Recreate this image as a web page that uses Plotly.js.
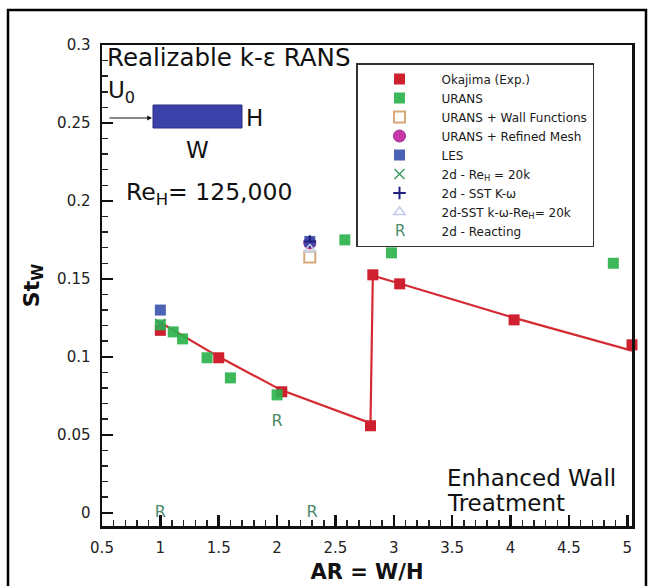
<!DOCTYPE html>
<html>
<head>
<meta charset="utf-8">
<script src="https://cdn.plot.ly/plotly-3.0.1.min.js"></script>
<style>html,body{margin:0;padding:0;background:#fff;}#chart{width:654px;height:586px;}</style>
</head>
<body>
<div id="chart"></div>
<script>
// ---- data ----
const okajimaX = [1.0, 1.5, 2.04, 2.8, 2.82, 3.05, 4.03, 5.04];
const okajimaY = [0.117, 0.0994, 0.0776, 0.0558, 0.1526, 0.1468, 0.1237, 0.1077];
const fitX = [1.0, 1.5, 2.04, 2.8, 2.82, 3.05, 4.03, 5.04];
const fitY = [0.122, 0.1, 0.0785, 0.0575, 0.152, 0.147, 0.125, 0.104];
const uransX = [1.0, 1.11, 1.19, 1.4, 1.6, 2.0, 2.58, 2.98, 4.88];
const uransY = [0.1205, 0.116, 0.1115, 0.0994, 0.0865, 0.0756, 0.175, 0.1667, 0.160];
const wallFnX = [2.28];
const wallFnY = [0.164];
const refinedX = [2.28];
const refinedY = [0.173];
const lesX = [1.0, 2.28];
const lesY = [0.130, 0.174];
const re20kX = [1.0];
const re20kY = [0.121];
const sstX = [2.28];
const sstY = [0.174];
const sstRe20kX = [2.28];
const sstRe20kY = [0.169];
const reactX = [1.0, 2.0, 2.3];
const reactY = [0.0, 0.058, 0.0];
const reactText = ['R', 'R', 'R'];

// plot-area pixel geometry helpers (layout only)
const L = 102, R = 632, T = 45, B = 526;
const px = x => (x - L) / (R - L);
const py = y => (B - y) / (B - T);

const FONT = 'DejaVu Sans, Liberation Sans, Arial, sans-serif';

const traces = [
  {x: fitX, y: fitY, mode: 'lines', line: {color: '#d42a32', width: 2.2}, showlegend: false, hoverinfo: 'skip', cliponaxis: false},
  {x: okajimaX, y: okajimaY, mode: 'markers', name: 'Okajima (Exp.)', cliponaxis: false,
   marker: {symbol: 'square', size: 11, color: '#cf2030'}},
  {x: uransX, y: uransY, mode: 'markers', name: 'URANS', cliponaxis: false,
   marker: {symbol: 'square', size: 11, color: '#2cb24c', opacity: 0.92}},
  {x: wallFnX, y: wallFnY, mode: 'markers', name: 'URANS + Wall Functions',
   marker: {symbol: 'square-open', size: 11, color: '#d8a878', line: {width: 2}}},
  {x: refinedX, y: refinedY, mode: 'markers', name: 'URANS + Refined Mesh',
   marker: {symbol: 'circle', size: 12, color: '#c838a8', line: {color: '#a02890', width: 1}}},
  {x: lesX, y: lesY, mode: 'markers', name: 'LES',
   marker: {symbol: 'square', size: 11, color: '#2c48a8', opacity: 0.85}},
  {x: re20kX, y: re20kY, mode: 'markers', name: '2d - Re<sub>H</sub> = 20k',
   marker: {symbol: 'x-thin-open', size: 10, color: '#3a9a62', line: {width: 1.5}}},
  {x: sstX, y: sstY, mode: 'markers', name: '2d - SST K-ω',
   marker: {symbol: 'cross-thin-open', size: 9, color: '#202080', line: {width: 2}}},
  {x: sstRe20kX, y: sstRe20kY, mode: 'markers', name: '2d-SST k-ω-Re<sub>H</sub>= 20k',
   marker: {symbol: 'triangle-up-open', size: 10, color: '#c0cce8', line: {width: 1.5}}},
  {x: reactX, y: reactY, mode: 'text', name: '2d - Reacting', text: reactText, showlegend: false, cliponaxis: false,
   textfont: {family: FONT, size: 16, color: '#4a8a68'}, textposition: 'middle center'},
  // legend entry for the text-marker series (its glyph is drawn as an "R" annotation below)
  {x: [null], y: [null], mode: 'markers', name: '2d - Reacting',
   marker: {symbol: 'square', size: 10, color: 'rgba(0,0,0,0)'}}
];

const legendFontSize = 12;

const layout = {
  width: 654, height: 586,
  margin: {l: L, r: 654 - R, t: T, b: 586 - B},
  paper_bgcolor: '#ffffff', plot_bgcolor: '#ffffff',
  font: {family: FONT, color: '#1a1a1a', size: 13},
  showlegend: true,
  legend: {
    x: px(356), y: py(63), xanchor: 'left', yanchor: 'top',
    bgcolor: '#ffffff', bordercolor: '#333333', borderwidth: 1.5,
    font: {family: FONT, size: legendFontSize, color: '#1a1a1a'},
    itemwidth: 74, tracegroupgap: 0
  },
  xaxis: {
    range: [0.5, 5.04], showgrid: false, zeroline: false,
    showline: true, linecolor: '#111', linewidth: 2.5, mirror: true,
    ticks: 'inside', ticklen: 11, tickwidth: 2.5, tickcolor: '#111',
    dtick: 0.5, tick0: 0.5, ticklabelstandoff: 6,
    minor: {ticks: 'inside', ticklen: 6, tickwidth: 1.5, dtick: 0.1, tickcolor: '#222'},
    tickfont: {family: FONT, size: 15, color: '#222'},
    title: {text: 'AR = W/H', font: {family: FONT, size: 21, color: '#111', weight: 'bold'}, standoff: 9}
  },
  yaxis: {
    range: [-0.0085, 0.3], showgrid: false, zeroline: false,
    showline: true, linecolor: '#111', linewidth: 2.5, mirror: true,
    ticks: 'inside', ticklen: 11, tickwidth: 2.5, tickcolor: '#111',
    dtick: 0.05, tick0: 0, ticklabelstandoff: 6,
    minor: {ticks: 'inside', ticklen: 6, tickwidth: 1.5, dtick: 0.01, tickcolor: '#222'},
    tickfont: {family: FONT, size: 15, color: '#222'},
    title: {text: 'St<sub>W</sub>', font: {family: FONT, size: 22, color: '#111', weight: 'bold'}, standoff: 12}
  },
  shapes: [
    {type: 'rect', xref: 'paper', yref: 'paper', x0: px(8), x1: px(646), y0: py(592), y1: py(10),
     line: {color: '#000', width: 2.5}, fillcolor: 'rgba(0,0,0,0)', layer: 'above'},
    {type: 'rect', xref: 'paper', yref: 'paper', x0: px(153), x1: px(242), y0: py(128), y1: py(105),
     line: {color: '#2a2f80', width: 1}, fillcolor: '#3a42aa', layer: 'above'}
  ],
  annotations: [
    {xref: 'paper', yref: 'paper', x: px(105), y: py(57), xanchor: 'left', yanchor: 'middle', showarrow: false,
     text: 'Realizable k-ε RANS', font: {family: FONT, size: 24.5, color: '#111'}},
    {xref: 'paper', yref: 'paper', x: px(106), y: py(92), xanchor: 'left', yanchor: 'middle', showarrow: false,
     text: 'U<sub>0</sub>', font: {family: FONT, size: 23, color: '#111'}},
    {xref: 'paper', yref: 'paper', x: px(152), y: py(118), ax: -44, ay: 0, showarrow: true, text: '',
     arrowhead: 2, arrowsize: 0.8, arrowwidth: 1.2, arrowcolor: '#111'},
    {xref: 'paper', yref: 'paper', x: px(244), y: py(118), xanchor: 'left', yanchor: 'middle', showarrow: false,
     text: 'H', font: {family: FONT, size: 23, color: '#111'}},
    {xref: 'paper', yref: 'paper', x: px(197), y: py(150), xanchor: 'center', yanchor: 'middle', showarrow: false,
     text: 'W', font: {family: FONT, size: 23, color: '#111'}},
    {xref: 'paper', yref: 'paper', x: px(124), y: py(194), xanchor: 'left', yanchor: 'middle', showarrow: false,
     text: 'Re<sub>H</sub>= 125,000', font: {family: FONT, size: 23.5, color: '#111'}},
    {xref: 'paper', yref: 'paper', x: px(445), y: py(478), xanchor: 'left', yanchor: 'middle', showarrow: false,
     text: 'Enhanced Wall', font: {family: FONT, size: 23, color: '#111'}},
    {xref: 'paper', yref: 'paper', x: px(445), y: py(503), xanchor: 'left', yanchor: 'middle', showarrow: false,
     text: 'Treatment', font: {family: FONT, size: 23, color: '#111'}}
  ]
};

Plotly.newPlot('chart', traces, layout, {displayModeBar: false, staticPlot: true}).then(gd => {
  // place an "R" glyph over the legend swatch of the 2d - Reacting entry
  const items = gd.querySelectorAll('.legend .traces');
  const last = items[items.length - 1];
  const sym = last.querySelector('.legendpoints path, .scatterpts path, .legendsymbols path');
  const cont = gd.getBoundingClientRect();
  if (sym) {
    const r = sym.getBoundingClientRect();
    const cx = r.left + r.width / 2 - cont.left, cy = r.top + r.height / 2 - cont.top;
    const ann = (gd.layout.annotations || []).slice();
    ann.push({xref: 'paper', yref: 'paper', x: px(cx), y: py(cy), xanchor: 'center', yanchor: 'middle',
      showarrow: false, text: 'R', font: {family: FONT, size: 15, color: '#4a8a68'}});
    Plotly.relayout(gd, {annotations: ann});
  }
});
</script>
</body>
</html>
